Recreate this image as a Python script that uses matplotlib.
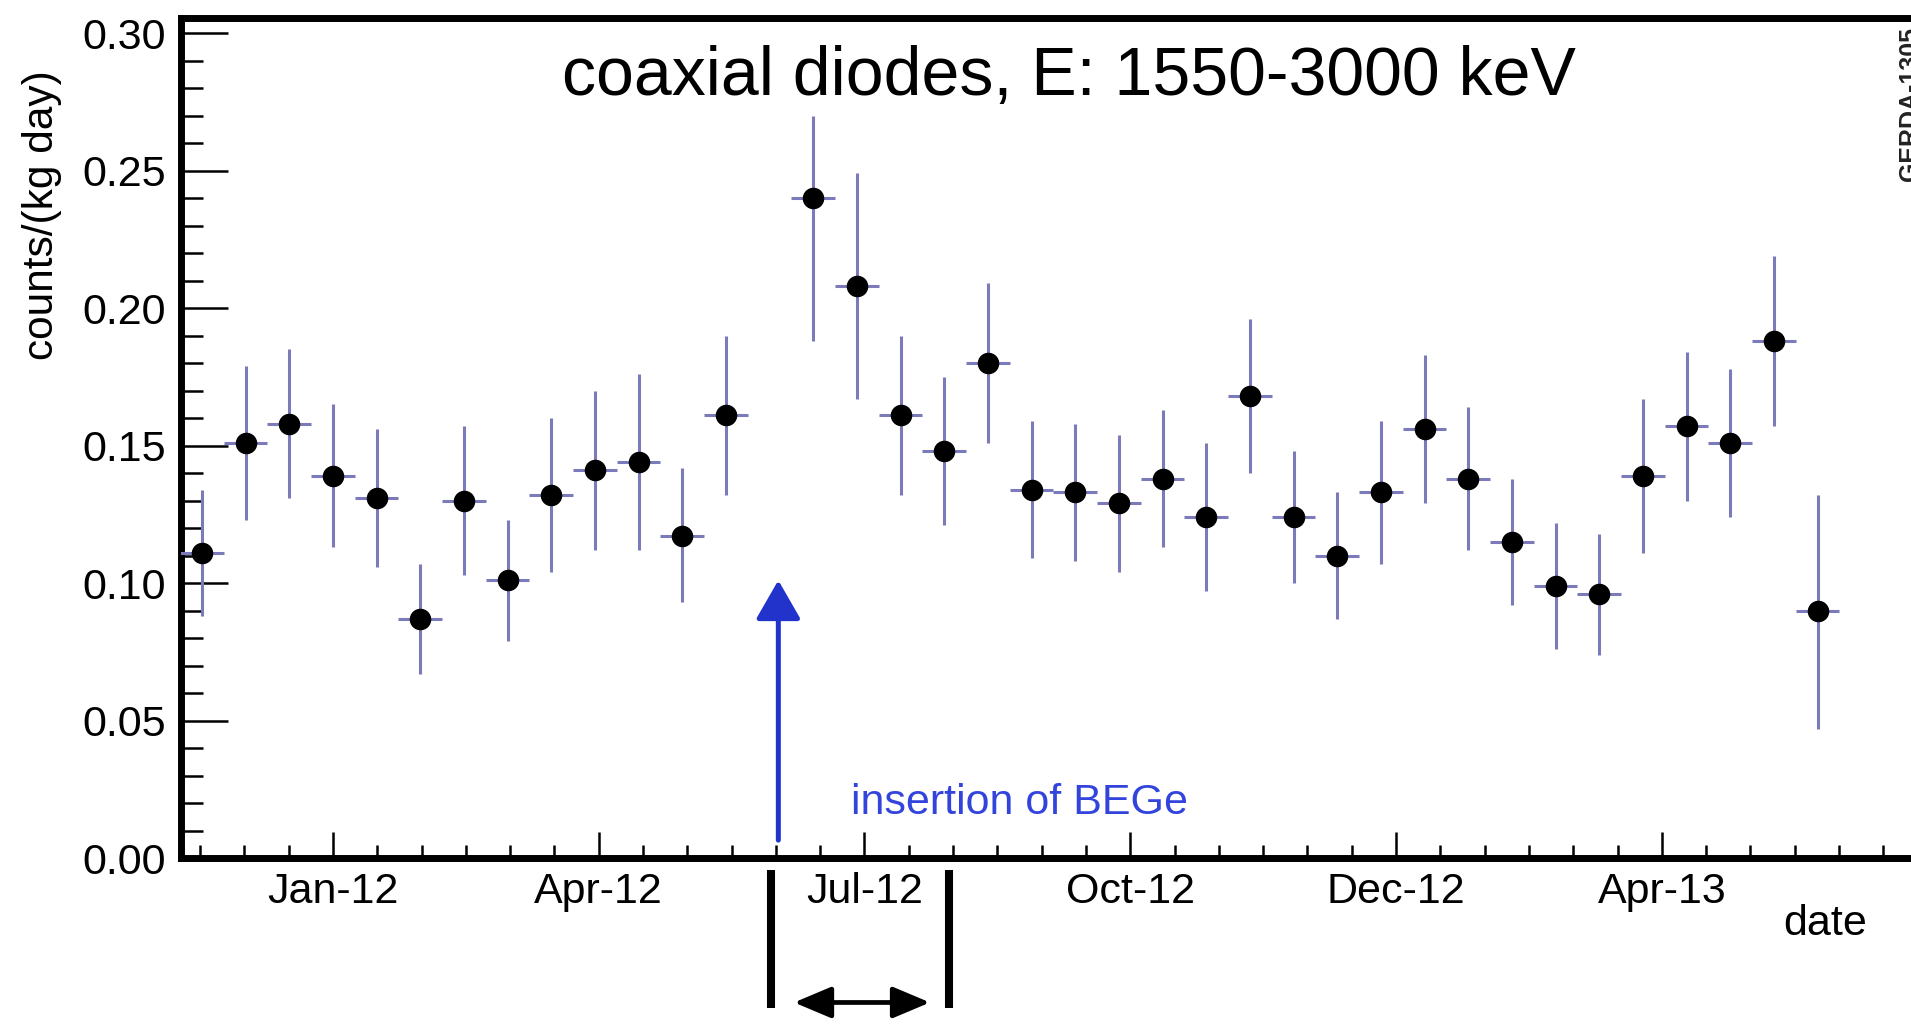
import numpy as np
import matplotlib.pyplot as plt
from matplotlib.ticker import FixedLocator, FixedFormatter, MultipleLocator, FormatStrFormatter

plt.rcParams['font.family'] = ['Liberation Sans', 'DejaVu Sans']

# bin centres in days since 1 Jan 2012 (15 day bins, one empty bin at 150)
days = [-45, -30, -15, 0, 15, 30, 45, 60, 75, 90, 105, 120, 135,
        165, 180, 195, 210, 225, 240, 255, 270, 285, 300, 315, 330,
        345, 360, 375, 390, 405, 420, 435, 450, 465, 480, 495, 510]
rate = [0.111, 0.151, 0.158, 0.139, 0.131, 0.087, 0.130, 0.101, 0.132, 0.141,
        0.144, 0.117, 0.161, 0.240, 0.208, 0.161, 0.148, 0.180, 0.134, 0.133,
        0.129, 0.138, 0.124, 0.168, 0.124, 0.110, 0.133, 0.156, 0.138, 0.115,
        0.099, 0.096, 0.139, 0.157, 0.151, 0.188, 0.090]
err_lo = [0.023, 0.028, 0.027, 0.026, 0.025, 0.020, 0.027, 0.022, 0.028, 0.029,
          0.032, 0.024, 0.029, 0.052, 0.041, 0.029, 0.027, 0.029, 0.025, 0.025,
          0.025, 0.025, 0.027, 0.028, 0.024, 0.023, 0.026, 0.027, 0.026, 0.023,
          0.023, 0.022, 0.028, 0.027, 0.027, 0.031, 0.043]
err_hi = [0.023, 0.028, 0.027, 0.026, 0.025, 0.020, 0.027, 0.022, 0.028, 0.029,
          0.032, 0.025, 0.029, 0.030, 0.041, 0.029, 0.027, 0.029, 0.025, 0.025,
          0.025, 0.025, 0.027, 0.028, 0.024, 0.023, 0.026, 0.027, 0.026, 0.023,
          0.023, 0.022, 0.028, 0.027, 0.027, 0.031, 0.042]
bin_half = 7.5

tick_days = [0, 91.3, 182.6, 273.9, 365.2, 456.5]
tick_labels = ['Jan-12', 'Apr-12', 'Jul-12', 'Oct-12', 'Dec-12', 'Apr-13']

bege_day = 153          # insertion of the BEGe detectors
period = (150.5, 211.5)  # marked interval below the axis

W, H = 1911, 1025
fig = plt.figure(figsize=(W / 100, H / 100), dpi=100)
ax = fig.add_axes([181 / W, (H - 858) / H, (1920 - 181) / W, (858 - 18) / H])

ax.errorbar(days, rate, xerr=bin_half, yerr=[err_lo, err_hi], fmt='o',
            color='black', ms=14.5, ecolor='#7b7bbb', elinewidth=2.2, capsize=0,
            zorder=3)

ax.set_xlim(-52.2, 545.2)
ax.set_ylim(0, 0.3055)

ax.xaxis.set_major_locator(FixedLocator(tick_days))
ax.xaxis.set_major_formatter(FixedFormatter(tick_labels))
ax.xaxis.set_minor_locator(MultipleLocator(91.3 / 6))
ax.yaxis.set_major_locator(MultipleLocator(0.05))
ax.yaxis.set_minor_locator(MultipleLocator(0.01))
ax.yaxis.set_major_formatter(FormatStrFormatter('%.2f'))

ax.tick_params(axis='both', which='both', direction='in', top=False, right=False,
               colors='black', labelsize=31, width=1.8)
ax.tick_params(axis='y', which='major', length=34, pad=11)
ax.tick_params(axis='y', which='minor', length=16)
ax.tick_params(axis='x', which='major', length=19, pad=10)
ax.tick_params(axis='x', which='minor', length=9.5)
for s in ax.spines.values():
    s.set_linewidth(5)
ax.spines['right'].set_visible(False)

# blue arrow and note
ax.annotate('', xy=(bege_day, 0.101), xytext=(bege_day, 0.0065),
            arrowprops=dict(arrowstyle='-|>,head_length=0.4,head_width=0.23',
                            color='#2233cc', lw=3.6, mutation_scale=60,
                            shrinkA=0, shrinkB=0))
ax.text(178, 0.016, 'insertion of BEGe', color='#3344dd', fontsize=31,
        va='baseline', ha='left')

# bracket under the axis
trans = ax.get_xaxis_transform()
for d in period:
    ax.plot([d, d], [-0.0143, -0.1786], transform=trans, color='black',
            lw=5.8, clip_on=False, solid_capstyle='butt')
ax.annotate('', xy=(period[0] + 7.9, -0.172), xytext=(period[1] - 6.4, -0.172),
            xycoords=trans, textcoords=trans, annotation_clip=False,
            arrowprops=dict(arrowstyle='<|-|>,head_length=0.38,head_width=0.16',
                            color='black', lw=3.4, mutation_scale=60,
                            shrinkA=0, shrinkB=0))

fig.text(1069 / W, 1 - 95 / H, 'coaxial diodes, E: 1550-3000 keV',
         ha='center', va='baseline', fontsize=49)
fig.text(42 / W, 1 - 70 / H, 'counts/(kg day)', rotation=90,
         ha='center', va='top', fontsize=30.5)
fig.text(1825 / W, 1 - 935 / H, 'date', ha='center', va='baseline', fontsize=31)
fig.text(1910 / W, 1 - 27 / H, 'GERDA-1305', rotation=90, ha='center', va='top',
         fontsize=18, fontweight='bold', color='#222222')

fig.savefig('out.png', dpi=100)
